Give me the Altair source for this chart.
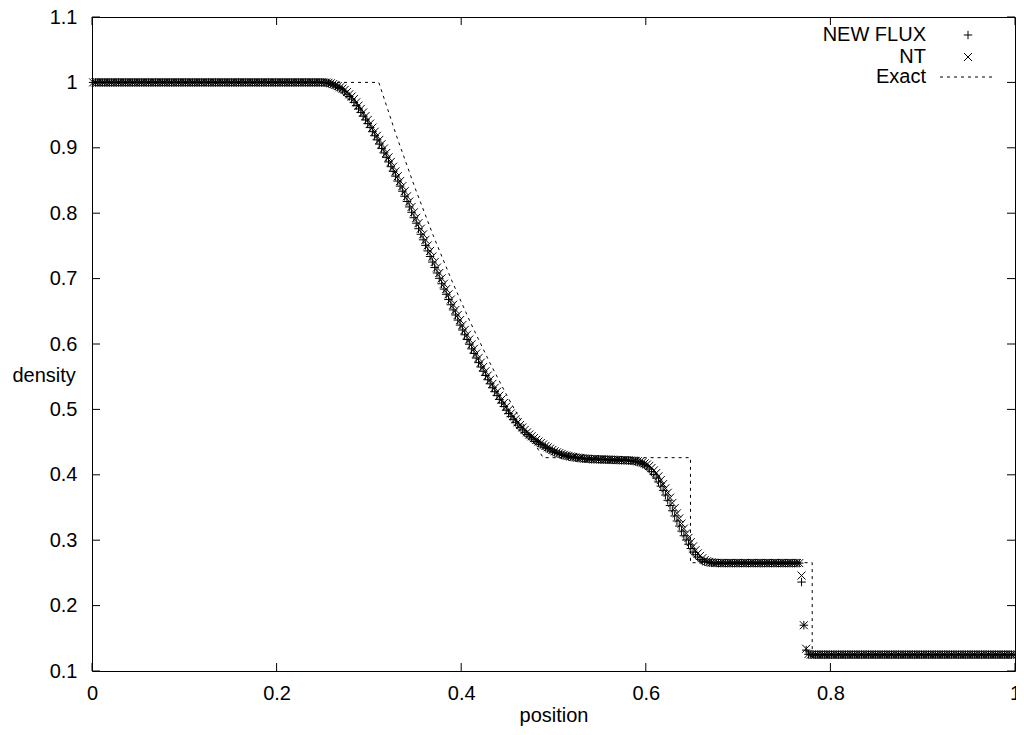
import altair as alt
import pandas as pd

# ---------------- data ----------------
N_CELLS = 400
cell_position = [(i + 0.5) / N_CELLS for i in range(N_CELLS)]

newflux_density = (
    [1.0] * 100
    + [0.9999, 0.9994, 0.9986, 0.9974,
       0.9961, 0.9944, 0.9925, 0.9906,
       0.9885, 0.9852, 0.9818, 0.9784,
       0.9745, 0.9695, 0.9645, 0.9595,
       0.9541, 0.9484, 0.9426, 0.9369,
       0.9309, 0.9246, 0.9184, 0.9121,
       0.9056, 0.8989, 0.8921, 0.8854,
       0.8784, 0.8711, 0.8639, 0.8566,
       0.8491, 0.8414, 0.8336, 0.8259,
       0.8179, 0.8096, 0.8014, 0.7931,
       0.7848, 0.7763, 0.7678, 0.7593,
       0.7508, 0.7423, 0.7338, 0.7253,
       0.7169, 0.7086, 0.7004, 0.6921,
       0.6840, 0.6760, 0.6680, 0.6600,
       0.6521, 0.6444, 0.6366, 0.6289,
       0.6214, 0.6141, 0.6069, 0.5996,
       0.5925, 0.5855, 0.5785, 0.5715,
       0.5648, 0.5583, 0.5518, 0.5453,
       0.5390, 0.5330, 0.5270, 0.5210,
       0.5153, 0.5098, 0.5043, 0.4988,
       0.4938, 0.4893, 0.4848, 0.4803,
       0.4761, 0.4724, 0.4686, 0.4649,
       0.4616, 0.4589, 0.4561, 0.4534,
       0.4509, 0.4486, 0.4464, 0.4441,
       0.4420, 0.4400, 0.4380, 0.4360,
       0.4344, 0.4331, 0.4319, 0.4306,
       0.4296, 0.4289, 0.4281, 0.4274,
       0.4268, 0.4263, 0.4258, 0.4253,
       0.4249, 0.4246, 0.4244, 0.4241,
       0.4239, 0.4238, 0.4237, 0.4236,
       0.4234, 0.4233, 0.4232, 0.4231,
       0.4229, 0.4228, 0.4227, 0.4226,
       0.4224, 0.4223, 0.4222, 0.4221,
       0.4219, 0.4216, 0.4211, 0.4204,
       0.4196, 0.4184, 0.4166, 0.4150,
       0.4122, 0.4088, 0.4048, 0.4003,
       0.3950, 0.3890, 0.3826, 0.3762,
       0.3690, 0.3610, 0.3530, 0.3450,
       0.3371, 0.3294, 0.3216, 0.3139,
       0.3068, 0.3003, 0.2938, 0.2873,
       0.2818, 0.2778, 0.2742, 0.2707,
       0.2683, 0.2672, 0.2663, 0.2658,
       0.2654, 0.2652, 0.2651, 0.2650]
    + [0.265] * 35
    + [0.236, 0.170, 0.132, 0.1255]
    + [0.125] * 89
)

nt_density = (
    [1.0] * 101
    + [0.9999, 0.9994, 0.9986, 0.9974,
       0.9961, 0.9944, 0.9925, 0.9906,
       0.9885, 0.9852, 0.9818, 0.9784,
       0.9745, 0.9695, 0.9645, 0.9595,
       0.9541, 0.9484, 0.9426, 0.9369,
       0.9309, 0.9246, 0.9184, 0.9121,
       0.9056, 0.8989, 0.8921, 0.8854,
       0.8784, 0.8711, 0.8639, 0.8566,
       0.8491, 0.8414, 0.8336, 0.8259,
       0.8179, 0.8096, 0.8014, 0.7931,
       0.7848, 0.7763, 0.7678, 0.7593,
       0.7508, 0.7423, 0.7338, 0.7253,
       0.7169, 0.7086, 0.7004, 0.6921,
       0.6840, 0.6760, 0.6680, 0.6600,
       0.6521, 0.6444, 0.6366, 0.6289,
       0.6214, 0.6141, 0.6069, 0.5996,
       0.5925, 0.5855, 0.5785, 0.5715,
       0.5648, 0.5583, 0.5518, 0.5453,
       0.5390, 0.5330, 0.5270, 0.5210,
       0.5153, 0.5098, 0.5043, 0.4988,
       0.4938, 0.4893, 0.4848, 0.4803,
       0.4761, 0.4724, 0.4686, 0.4649,
       0.4616, 0.4589, 0.4561, 0.4534,
       0.4509, 0.4486, 0.4464, 0.4441,
       0.4420, 0.4400, 0.4380, 0.4360,
       0.4344, 0.4331, 0.4319, 0.4306,
       0.4296, 0.4289, 0.4281, 0.4274,
       0.4268, 0.4263, 0.4258, 0.4253,
       0.4249, 0.4246, 0.4244, 0.4241,
       0.4239, 0.4238, 0.4237, 0.4236,
       0.4234, 0.4233, 0.4232, 0.4231,
       0.4229, 0.4228, 0.4227, 0.4226,
       0.4224, 0.4223, 0.4222,
       0.4221, 0.4219, 0.4218, 0.4214,
       0.4208, 0.4200, 0.4190, 0.4175,
       0.4158, 0.4136, 0.4105, 0.4068,
       0.4026, 0.3977, 0.3920, 0.3858,
       0.3794, 0.3726, 0.3650, 0.3570,
       0.3490, 0.3411, 0.3333, 0.3255,
       0.3178, 0.3104, 0.3036, 0.2971,
       0.2906, 0.2846, 0.2798, 0.2760,
       0.2725, 0.2695, 0.2678, 0.2668,
       0.2661, 0.2656, 0.2653, 0.2652,
       0.2651]
    + [0.265] * 34
    + [0.246, 0.170, 0.134, 0.126]
    + [0.125] * 89
)

exact_position = [0.0, 0.3107, 0.33, 0.35, 0.37, 0.39, 0.41, 0.43, 0.45, 0.47,
                  0.4888, 0.6484, 0.6484, 0.7803, 0.7803, 1.0]
exact_density = [1.0, 1.0, 0.9178, 0.8385, 0.7648, 0.6963, 0.6329, 0.5742, 0.5198,
                 0.4697, 0.4262, 0.4262, 0.2656, 0.2656, 0.125, 0.125]

x_tick_values = [0, 0.2, 0.4, 0.6, 0.8, 1]
y_tick_values = [0.1, 0.2, 0.3, 0.4, 0.5, 0.6, 0.7, 0.8, 0.9, 1, 1.1]

legend_labels = ["NEW FLUX", "NT", "Exact"]

# ---------------- chart ----------------
FONT = "Liberation Sans"
FS = 20
W, H = 923, 654
TICK = 8

n = min(len(cell_position), len(newflux_density), len(nt_density))
df_nf = pd.DataFrame({"position": cell_position[:n], "density": newflux_density[:n]})
df_nt = pd.DataFrame({"position": cell_position[:n], "density": nt_density[:n]})
df_ex = pd.DataFrame({"position": exact_position, "density": exact_density,
                      "idx": list(range(len(exact_position)))})
df_xt = pd.DataFrame({"position": x_tick_values})
df_yt = pd.DataFrame({"density": y_tick_values})
one = pd.DataFrame({"k": [0]})

xscale = alt.Scale(domain=[0, 1], nice=False, zero=False)
yscale = alt.Scale(domain=[0.1, 1.1], nice=False, zero=False)

xaxis = alt.Axis(values=x_tick_values, format="~g", grid=False, domain=False,
                 ticks=False, tickSize=0, labelPadding=12, labelFlush=False,
                 labelFont=FONT, labelFontSize=FS, labelColor="black",
                 title="position", titleFont=FONT, titleFontSize=FS,
                 titleFontWeight="normal", titleColor="black",
                 titleBaseline="middle", titleY=44)
yaxis = alt.Axis(values=y_tick_values, format="~g", grid=False, domain=False,
                 ticks=False, tickSize=0, labelPadding=15, labelFlush=False,
                 labelFont=FONT, labelFontSize=FS, labelColor="black",
                 title="density", titleFont=FONT, titleFontSize=FS,
                 titleFontWeight="normal", titleColor="black", titleAngle=0,
                 titleAlign="left", titleBaseline="middle", titleX=-80, titleY=358)

X = alt.X("position:Q", scale=xscale, axis=xaxis)
Y = alt.Y("density:Q", scale=yscale, axis=yaxis)

PLUS = "M-1,0L1,0M0,-1L0,1"
CROSS = "M-1,-1L1,1M-1,1L1,-1"

nf_layer = alt.Chart(df_nf).mark_point(shape=PLUS, size=72, filled=False, color="black",
                                       strokeWidth=1, opacity=1).encode(x=X, y=Y)
nt_layer = alt.Chart(df_nt).mark_point(shape=CROSS, size=64, filled=False, color="black",
                                       strokeWidth=1, opacity=1).encode(x=X, y=Y)
ex_layer = alt.Chart(df_ex).mark_line(color="black", strokeWidth=1,
                                      strokeDash=[3, 4]).encode(x=X, y=Y, order="idx:Q")

tick_b = alt.Chart(df_xt).mark_rule(color="black").encode(x=X, y=alt.value(H), y2=alt.value(H - TICK))
tick_t = alt.Chart(df_xt).mark_rule(color="black").encode(x=X, y=alt.value(0), y2=alt.value(TICK))
tick_l = alt.Chart(df_yt).mark_rule(color="black").encode(y=Y, x=alt.value(0), x2=alt.value(TICK))
tick_r = alt.Chart(df_yt).mark_rule(color="black").encode(y=Y, x=alt.value(W), x2=alt.value(W - TICK))

LX_TEXT = 834
LX_SYM = 876
rows = [18, 40, 60]
leg_text = [
    alt.Chart(one).mark_text(text=lab, align="right", baseline="middle", font=FONT,
                             fontSize=FS, color="black").encode(x=alt.value(LX_TEXT), y=alt.value(r))
    for lab, r in zip(legend_labels, rows)
]
leg_plus = alt.Chart(one).mark_point(shape=PLUS, size=72, filled=False, color="black",
                                     strokeWidth=1, opacity=1).encode(x=alt.value(LX_SYM), y=alt.value(rows[0]))
leg_cross = alt.Chart(one).mark_point(shape=CROSS, size=64, filled=False, color="black",
                                      strokeWidth=1, opacity=1).encode(x=alt.value(LX_SYM), y=alt.value(rows[1]))
leg_dash = alt.Chart(one).mark_rule(color="black", strokeWidth=1, strokeDash=[3, 4]).encode(
    x=alt.value(848), x2=alt.value(901), y=alt.value(rows[2]))

chart = alt.layer(
    tick_b, tick_t, tick_l, tick_r,
    nf_layer, nt_layer, ex_layer,
    *leg_text, leg_plus, leg_cross, leg_dash,
).properties(
    width=W, height=H,
    autosize=alt.AutoSizeParams(type="none"),
    padding={"left": 84, "top": 9, "right": 1, "bottom": 56},
    background="white",
).configure_view(stroke="black", strokeWidth=1)

chart.save("out.html", embed_options={"renderer": "svg", "actions": False})
